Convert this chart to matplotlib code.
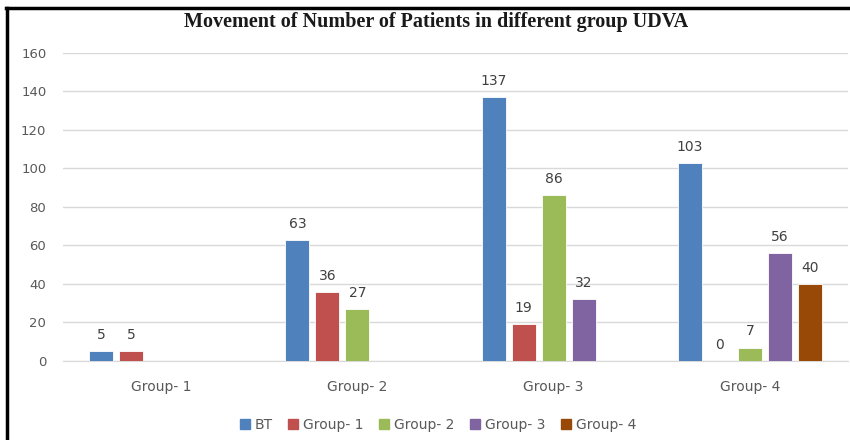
import numpy as np
import matplotlib
matplotlib.use('Agg')
import matplotlib.pyplot as plt
from matplotlib.lines import Line2D

CATEGORIES = ["Group- 1", "Group- 2", "Group- 3", "Group- 4"]
SERIES = ["BT", "Group- 1", "Group- 2", "Group- 3", "Group- 4"]
BT = [5, 63, 137, 103]
G1 = [5, 36, 19, 0]
G2 = [None, 27, 86, 7]
G3 = [None, None, 32, 56]
G4 = [None, None, None, 40]
COLORS = ["#4F81BD", "#C0504D", "#9BBB59", "#8064A2", "#984807"]

fig = plt.figure(figsize=(8.5, 4.4), dpi=100)
ax = fig.add_axes([63/850, 1-361/440, (848-63)/850, (361-52.7)/440])

x = np.arange(len(CATEGORIES))
slot = 30/196.25
width = 24/196.25
for i, (vals, col) in enumerate(zip([BT, G1, G2, G3, G4], COLORS)):
    pos = x + (i-2)*slot
    for p, v in zip(pos, vals):
        if v is None:
            continue
        ax.bar(p, v, width=width, color=col, edgecolor='white', linewidth=0.6, zorder=3)
        ax.annotate(str(v), (p, v), xytext=(0, 6.5), textcoords='offset points',
                    ha='center', va='bottom', fontsize=10, color='#404040')

ax.set_xlim(-0.5, 3.5)
ax.set_ylim(0, 160)
ax.set_yticks(range(0, 161, 20))
ax.set_xticks(x)
ax.set_xticklabels(CATEGORIES)
ax.tick_params(length=0, labelsize=10, colors='#595959')
ax.tick_params(axis='y', labelsize=9.5, pad=12)
ax.tick_params(axis='x', pad=14)
ax.grid(axis='y', color='#D9D9D9', linewidth=1, zorder=0)
for s in ['left', 'right', 'top']:
    ax.spines[s].set_visible(False)
ax.spines['bottom'].set_color('#D9D9D9')

fig.text(436/850, 1-22/440, "Movement of Number of Patients in different group UDVA",
         ha='center', va='center', fontsize=14.5, fontweight='bold',
         family='Liberation Serif', color='#1a1a1a')

handles = [Line2D([], [], marker='s', linestyle='', markersize=6.5,
                  markerfacecolor=c, markeredgecolor=c) for c in COLORS]
fig.legend(handles, SERIES, loc='center', bbox_to_anchor=(437/850, 1-425/440),
           ncol=5, frameon=False, fontsize=10, labelcolor='#595959',
           handletextpad=0.2, columnspacing=1.0, handlelength=1.0)

# frame lines (left and top)
fig.add_artist(Line2D([7/850, 7/850], [0, 1-8/440], color='black', linewidth=2.5,
                      transform=fig.transFigure))
fig.add_artist(Line2D([6/850, 1], [1-8/440, 1-8/440], color='black', linewidth=2.5,
                      transform=fig.transFigure))

fig.savefig("out.png", dpi=100)
